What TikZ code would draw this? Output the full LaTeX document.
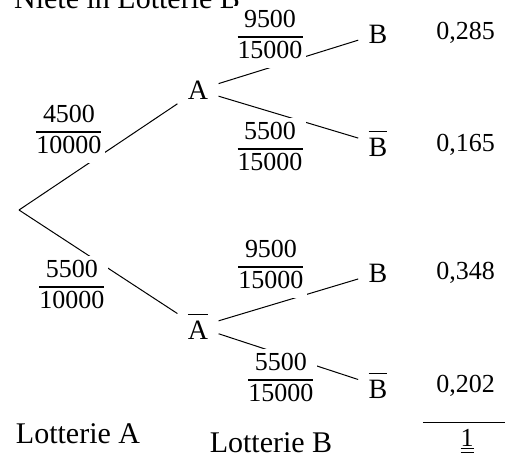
\documentclass[tikz,border=0pt]{standalone}
\usepackage{fontspec}
\setmainfont{Liberation Serif}
\setlength{\arrayrulewidth}{0.8pt}
\newcommand\quer[1]{\setbox0\hbox{#1}\vbox{\hrule width\wd0 height 0.6pt\kern3pt\box0}}
\newcommand\bruch[2]{\begin{tabular}{@{}c@{}}#1\\\hline #2\end{tabular}}

\begin{document}
\begin{tikzpicture}[
  x=0.5pt, y=-0.5pt, line width=0.5pt,
  ereignis/.style={font=\fontsize{14}{16}\selectfont, inner sep=5pt},
  bruch/.style={font=\fontsize{13}{15}\selectfont, fill=white, inner xsep=2pt, inner ysep=0pt},
  wert/.style={font=\fontsize{13}{15}\selectfont, anchor=east},
  titel/.style={font=\fontsize{15}{17}\selectfont, anchor=base}
]
\clip (0,0) rectangle (505,457);

\node[titel, anchor=base west] (kopf) at (7,8) {Niete in Lotterie B};

\coordinate (root) at (19,210);
\node[ereignis] (A)    at (198,90)  {A};
\node[ereignis] (Aq)   at (198,327) {\quer{A}};
\node[ereignis] (AB)   at (378,34)  {B};
\node[ereignis] (ABq)  at (378,144) {\quer{B}};
\node[ereignis] (AqB)  at (378,273) {B};
\node[ereignis] (AqBq) at (378,386) {\quer{B}};

\draw (root) -- (A);
\draw (root) -- (Aq);
\draw (A) -- (AB);
\draw (A) -- (ABq);
\draw (Aq) -- (AqB);
\draw (Aq) -- (AqBq);

\node[bruch] (pA)    at (69,132)  {\bruch{4500}{10000}};
\node[bruch] (pAq)   at (72,287)  {\bruch{5500}{10000}};
\node[bruch] (pAB)   at (270,37)  {\bruch{9500}{15000}};
\node[bruch] (pABq)  at (270,149) {\bruch{5500}{15000}};
\node[bruch] (pAqB)  at (271,267) {\bruch{9500}{15000}};
\node[bruch] (pAqBq) at (281,380) {\bruch{5500}{15000}};

\node[wert] (wAB)    at (502,33)  {0,285};
\node[wert] (wABq)   at (502,145) {0,165};
\node[wert] (wAqB)   at (502,273) {0,348};
\node[wert] (wAqBq)  at (502,386) {0,202};

\coordinate (sumL) at (423,422);
\coordinate (sumR) at (505,422);
\draw (sumL) -- (sumR);
\node[wert, anchor=base] (summe) at (467,446) {\underline{\underline{1}}};

\node[titel] (lotA) at (78,443)  {Lotterie A};
\node[titel] (lotB) at (271,452) {Lotterie B};
\end{tikzpicture}
\end{document}
